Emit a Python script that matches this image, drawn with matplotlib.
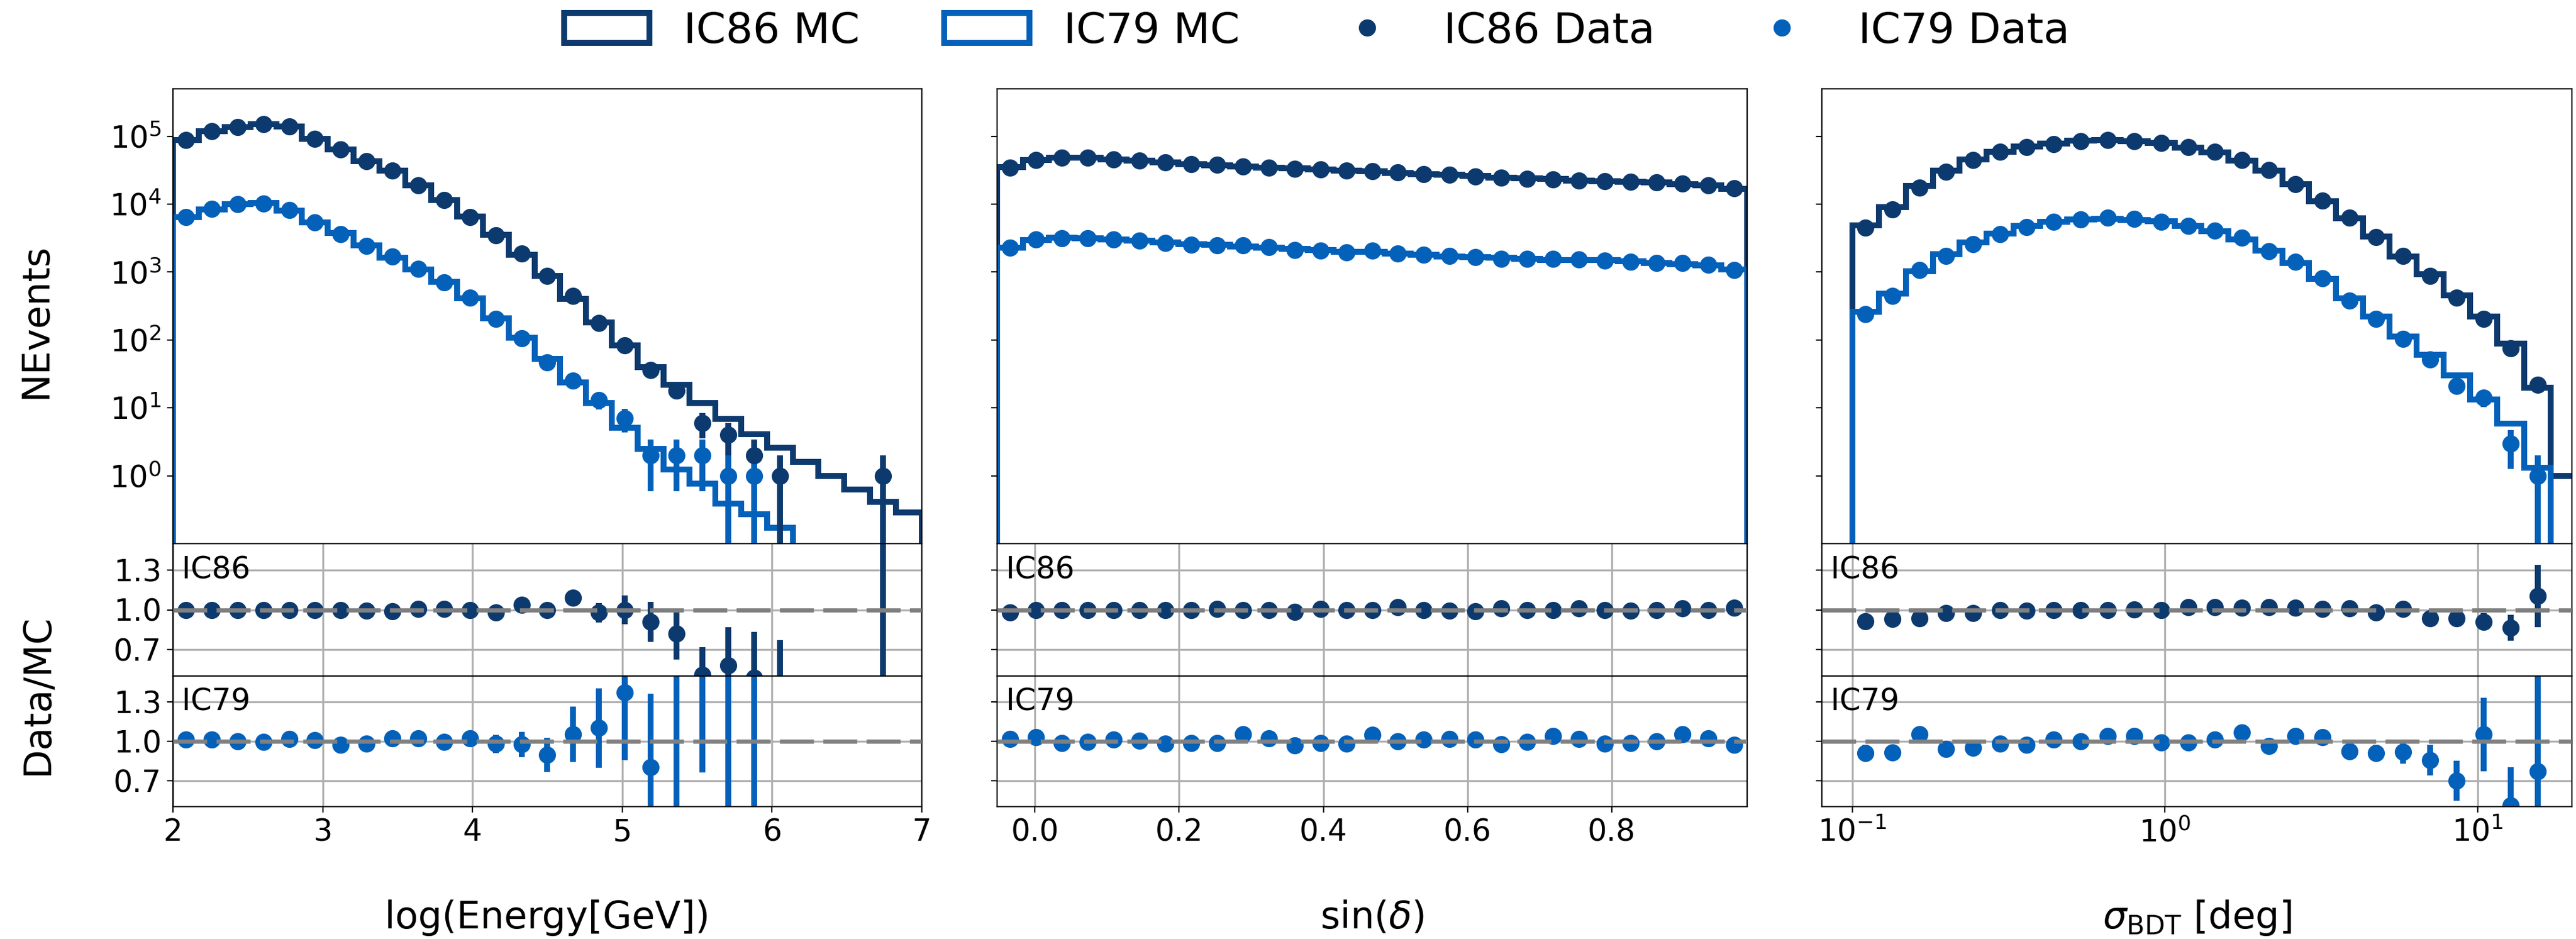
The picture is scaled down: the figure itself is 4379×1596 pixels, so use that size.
import numpy as np
import matplotlib
matplotlib.use("Agg")
import matplotlib.pyplot as plt
from matplotlib.lines import Line2D
from matplotlib.patches import Patch
from matplotlib.ticker import NullLocator

C86 = "#0d3a6e"
C79 = "#0461ba"

# ---- binning ----
energy_edges = np.linspace(2.0, 7.0, 30)
sindec_edges = np.linspace(np.sin(np.radians(-3.0)), np.sin(np.radians(81.0)), 30)
sigma_edges = np.logspace(-1.0, 1.32, 28)

# ---- log(Energy) ----
energy_mc_ic86 = [88000, 120000, 137500, 150000, 140000, 92300, 64200, 43300, 31400, 18900,
                  11400, 6520, 3570, 1800, 870, 406, 181, 84, 39.7, 22,
                  11.8, 6.9, 4.1, 2.6, 1.6, 1.0, 0.63, 0.41, 0.29]
energy_data_ic86 = [88000, 120000, 137000, 150000, 140000, 92000, 64000, 43000, 31000, 19000,
                    11500, 6500, 3500, 1870, 870, 443, 177, 84, 36, 18,
                    6, 4, 2, 1, 0, 0, 0, 1, 0]
energy_mc_ic79 = [6420, 8400, 10100, 10340, 8070, 5340, 3745, 2475, 1644, 1086,
                  713, 412, 207, 107.6, 52.5, 23.7, 11.8, 5.1, 2.5, 1.23,
                  0.77, 0.39, 0.27, 0.17, 0, 0, 0, 0, 0]
energy_data_ic79 = [6500, 8500, 10100, 10300, 8200, 5400, 3640, 2430, 1680, 1110,
                    710, 421, 203, 105, 47, 25, 13, 7, 2, 2,
                    2, 1, 1, 0, 0, 0, 0, 0, 0]

# ---- sin(dec) ----
sindec_mc_ic86 = [35200, 44400, 48200, 48390, 45700, 43570, 41200, 39260, 37670, 36140,
                  34500, 33570, 32210, 31100, 30620, 28730, 27610, 27120, 26110, 24550,
                  23900, 23390, 22080, 21890, 21570, 20980, 19860, 18980, 16730]
sindec_data_ic86 = [34500, 44400, 48200, 48200, 45700, 43400, 41200, 39100, 37900, 36000,
                    34500, 33100, 32400, 31100, 30500, 29300, 27500, 26900, 25800, 24800,
                    23800, 23300, 22300, 21800, 21400, 20900, 20100, 18900, 17000]
sindec_mc_ic79 = [2264, 2955, 3188, 3163, 3014, 2883, 2709, 2561, 2510, 2357,
                  2299, 2190, 2095, 1986, 1975, 1866, 1789, 1693, 1650, 1619,
                  1556, 1516, 1496, 1497, 1442, 1367, 1302, 1257, 1096]
sindec_data_ic79 = [2300, 3050, 3150, 3150, 3050, 2900, 2660, 2530, 2480, 2480,
                    2350, 2120, 2070, 1950, 2070, 1870, 1810, 1720, 1670, 1580,
                    1550, 1580, 1520, 1470, 1425, 1370, 1370, 1285, 1065]

# ---- sigma_BDT ----
sigma_mc_ic86 = [4923, 8991, 18590, 30940, 45490, 59640, 70060, 77410, 85840, 88400,
                 85160, 79400, 68140, 58240, 43700, 31180, 19590, 11130, 6245, 3347,
                 1710, 933, 450, 223, 88, 19.9, 1.0]
sigma_data_ic86 = [4490, 8380, 17400, 30200, 44400, 59400, 69500, 77100, 85500, 88400,
                   85500, 79400, 69500, 59400, 44400, 31800, 19900, 11200, 6320, 3280,
                   1720, 873, 421, 203, 76, 22, 0]
sigma_mc_ic79 = [261, 485, 1023, 1826, 2731, 3707, 4753, 5455, 5988, 6065,
                 5883, 5565, 4808, 3992, 3006, 2089, 1368, 788, 411, 223,
                 112, 60.8, 30, 13.3, 5.9, 1.3, 0]
sigma_data_ic79 = [238, 444, 1076, 1720, 2600, 3640, 4620, 5520, 6000, 6320,
                   6130, 5520, 4770, 4040, 3210, 2010, 1425, 813, 379, 203,
                   103, 52, 21, 14, 3, 1, 0]

plt.rcParams["font.family"] = "DejaVu Sans"
plt.rcParams["mathtext.fontset"] = "dejavusans"

W, H = 4379, 1596
DPI = 200
fig = plt.figure(figsize=(W / DPI, H / DPI), dpi=DPI)


def px_axes(x0, x1, y0, y1):
    # pixel box (top-left origin) -> figure axes
    return fig.add_axes([x0 / W, 1 - y1 / H, (x1 - x0) / W, (y1 - y0) / H])


columns = [(294, 1567), (1695, 2970), (3097, 4372)]
rows = [(151, 924), (924, 1149), (1149, 1371)]

MS = 9.5
LW = 3.6
TICK_FS = 18.5


def ratio_of(data, mc):
    data = np.asarray(data, float)
    mc = np.asarray(mc, float)
    ok = (mc > 0) & (data > 0)
    r = np.full_like(mc, np.nan)
    e = np.full_like(mc, np.nan)
    r[ok] = data[ok] / mc[ok]
    e[ok] = np.sqrt(data[ok]) / mc[ok]
    return r, e


def draw_column(col, edges, mc86, d86, mc79, d79, logx=False, share_main=None, share_r=None):
    x0, x1 = columns[col]
    ax = px_axes(x0, x1, *rows[0])
    if share_main is not None:
        ax.sharey(share_main)
    r86 = px_axes(x0, x1, *rows[1])
    r79 = px_axes(x0, x1, *rows[2])
    r86.sharex(ax)
    r79.sharex(ax)
    if share_r is not None:
        r86.sharey(share_r)
        r79.sharey(share_r)

    if logx:
        centers = np.sqrt(edges[1:] * edges[:-1])
        for a in (ax, r86, r79):
            a.set_xscale("log")
    else:
        centers = 0.5 * (edges[1:] + edges[:-1])

    ax.set_yscale("log")
    for mc, data, c in ((mc86, d86, C86), (mc79, d79, C79)):
        mc = np.asarray(mc, float)
        data = np.asarray(data, float)
        ax.stairs(np.clip(mc, 1e-3, None), edges, baseline=1e-3, color=c, lw=LW)
        y = np.where(data > 0, data, np.nan)
        ax.errorbar(centers, y, yerr=np.sqrt(data), fmt="o", color=c, ms=MS,
                    elinewidth=LW, capsize=0, zorder=3)
    ax.set_ylim(0.1, 5e5)
    ax.set_yticks([1, 10, 1e2, 1e3, 1e4, 1e5])
    ax.yaxis.set_minor_locator(NullLocator())

    for rax, mc, data, c, tag in ((r86, mc86, d86, C86, "IC86"), (r79, mc79, d79, C79, "IC79")):
        r, e = ratio_of(data, mc)
        rax.grid(True, color="#b0b0b0", lw=1.2, zorder=0)
        rax.errorbar(centers, r, yerr=e, fmt="o", color=c, ms=MS,
                     elinewidth=LW, capsize=0, zorder=2)
        rax.axhline(1.0, color="gray", lw=2.6, ls=(0, (8, 2.2)), zorder=4)
        rax.set_ylim(0.5, 1.5)
        rax.set_yticks([0.7, 1.0, 1.3])
        rax.text(0.012, 0.91, tag, transform=rax.transAxes, ha="left", va="top",
                 fontsize=18.5, zorder=5)
        rax.set_axisbelow(True)

    ax.set_xlim(edges[0], edges[-1])
    for a in (ax, r86, r79):
        a.tick_params(labelsize=TICK_FS)
        if logx:
            a.xaxis.set_minor_locator(NullLocator())
    ax.tick_params(axis="x", bottom=False, labelbottom=False)
    r86.tick_params(axis="x", bottom=False, labelbottom=False)
    if col > 0:
        for a in (ax, r86, r79):
            a.tick_params(axis="y", labelleft=False)
    return ax, r86, r79


axL, rL86, rL79 = draw_column(0, energy_edges, energy_mc_ic86, energy_data_ic86,
                              energy_mc_ic79, energy_data_ic79)
rL79.set_xticks([2, 3, 4, 5, 6, 7])
rL79.set_xlim(2, 7)

axM, rM86, rM79 = draw_column(1, sindec_edges, sindec_mc_ic86, sindec_data_ic86,
                              sindec_mc_ic79, sindec_data_ic79, share_main=axL, share_r=rL86)
rM79.set_xticks([0.0, 0.2, 0.4, 0.6, 0.8])
rM79.set_xlim(sindec_edges[0], sindec_edges[-1])

axR, rR86, rR79 = draw_column(2, sigma_edges, sigma_mc_ic86, sigma_data_ic86,
                              sigma_mc_ic79, sigma_data_ic79, logx=True,
                              share_main=axL, share_r=rL86)
rR79.set_xlim(0.08, 20)
rR79.set_xticks([0.1, 1, 10])
for a in (axR, rR86, rR79):
    a.xaxis.set_minor_locator(NullLocator())

axL.set_ylim(0.1, 5e5)
rL86.set_ylim(0.5, 1.5)

# axis titles
fig.text(61 / W, 1 - 545 / H, "NEvents", rotation=90, ha="center", va="center", fontsize=23)
fig.text(64 / W, 1 - 1180 / H, "Data/MC", rotation=90, ha="center", va="center", fontsize=23)
xlabels = ["log(Energy[GeV])", r"sin($\delta$)", r"$\sigma_{\mathrm{BDT}}$ [deg]"]
for (x0, x1), lab in zip(columns, xlabels):
    fig.text((x0 + x1) / 2 / W, 1 - 1578 / H, lab, ha="center", va="baseline", fontsize=23)

handles = [
    Patch(facecolor="white", edgecolor=C86, lw=LW, label="IC86 MC"),
    Patch(facecolor="white", edgecolor=C79, lw=LW, label="IC79 MC"),
    Line2D([], [], ls="", marker="o", color=C86, ms=MS, label="IC86 Data"),
    Line2D([], [], ls="", marker="o", color=C79, ms=MS, label="IC79 Data"),
]
fig.legend(handles=handles, loc="center", bbox_to_anchor=(2239 / W, 1 - 53 / H),
           ncol=4, frameon=False, fontsize=26)

fig.savefig("out.png", dpi=DPI)
